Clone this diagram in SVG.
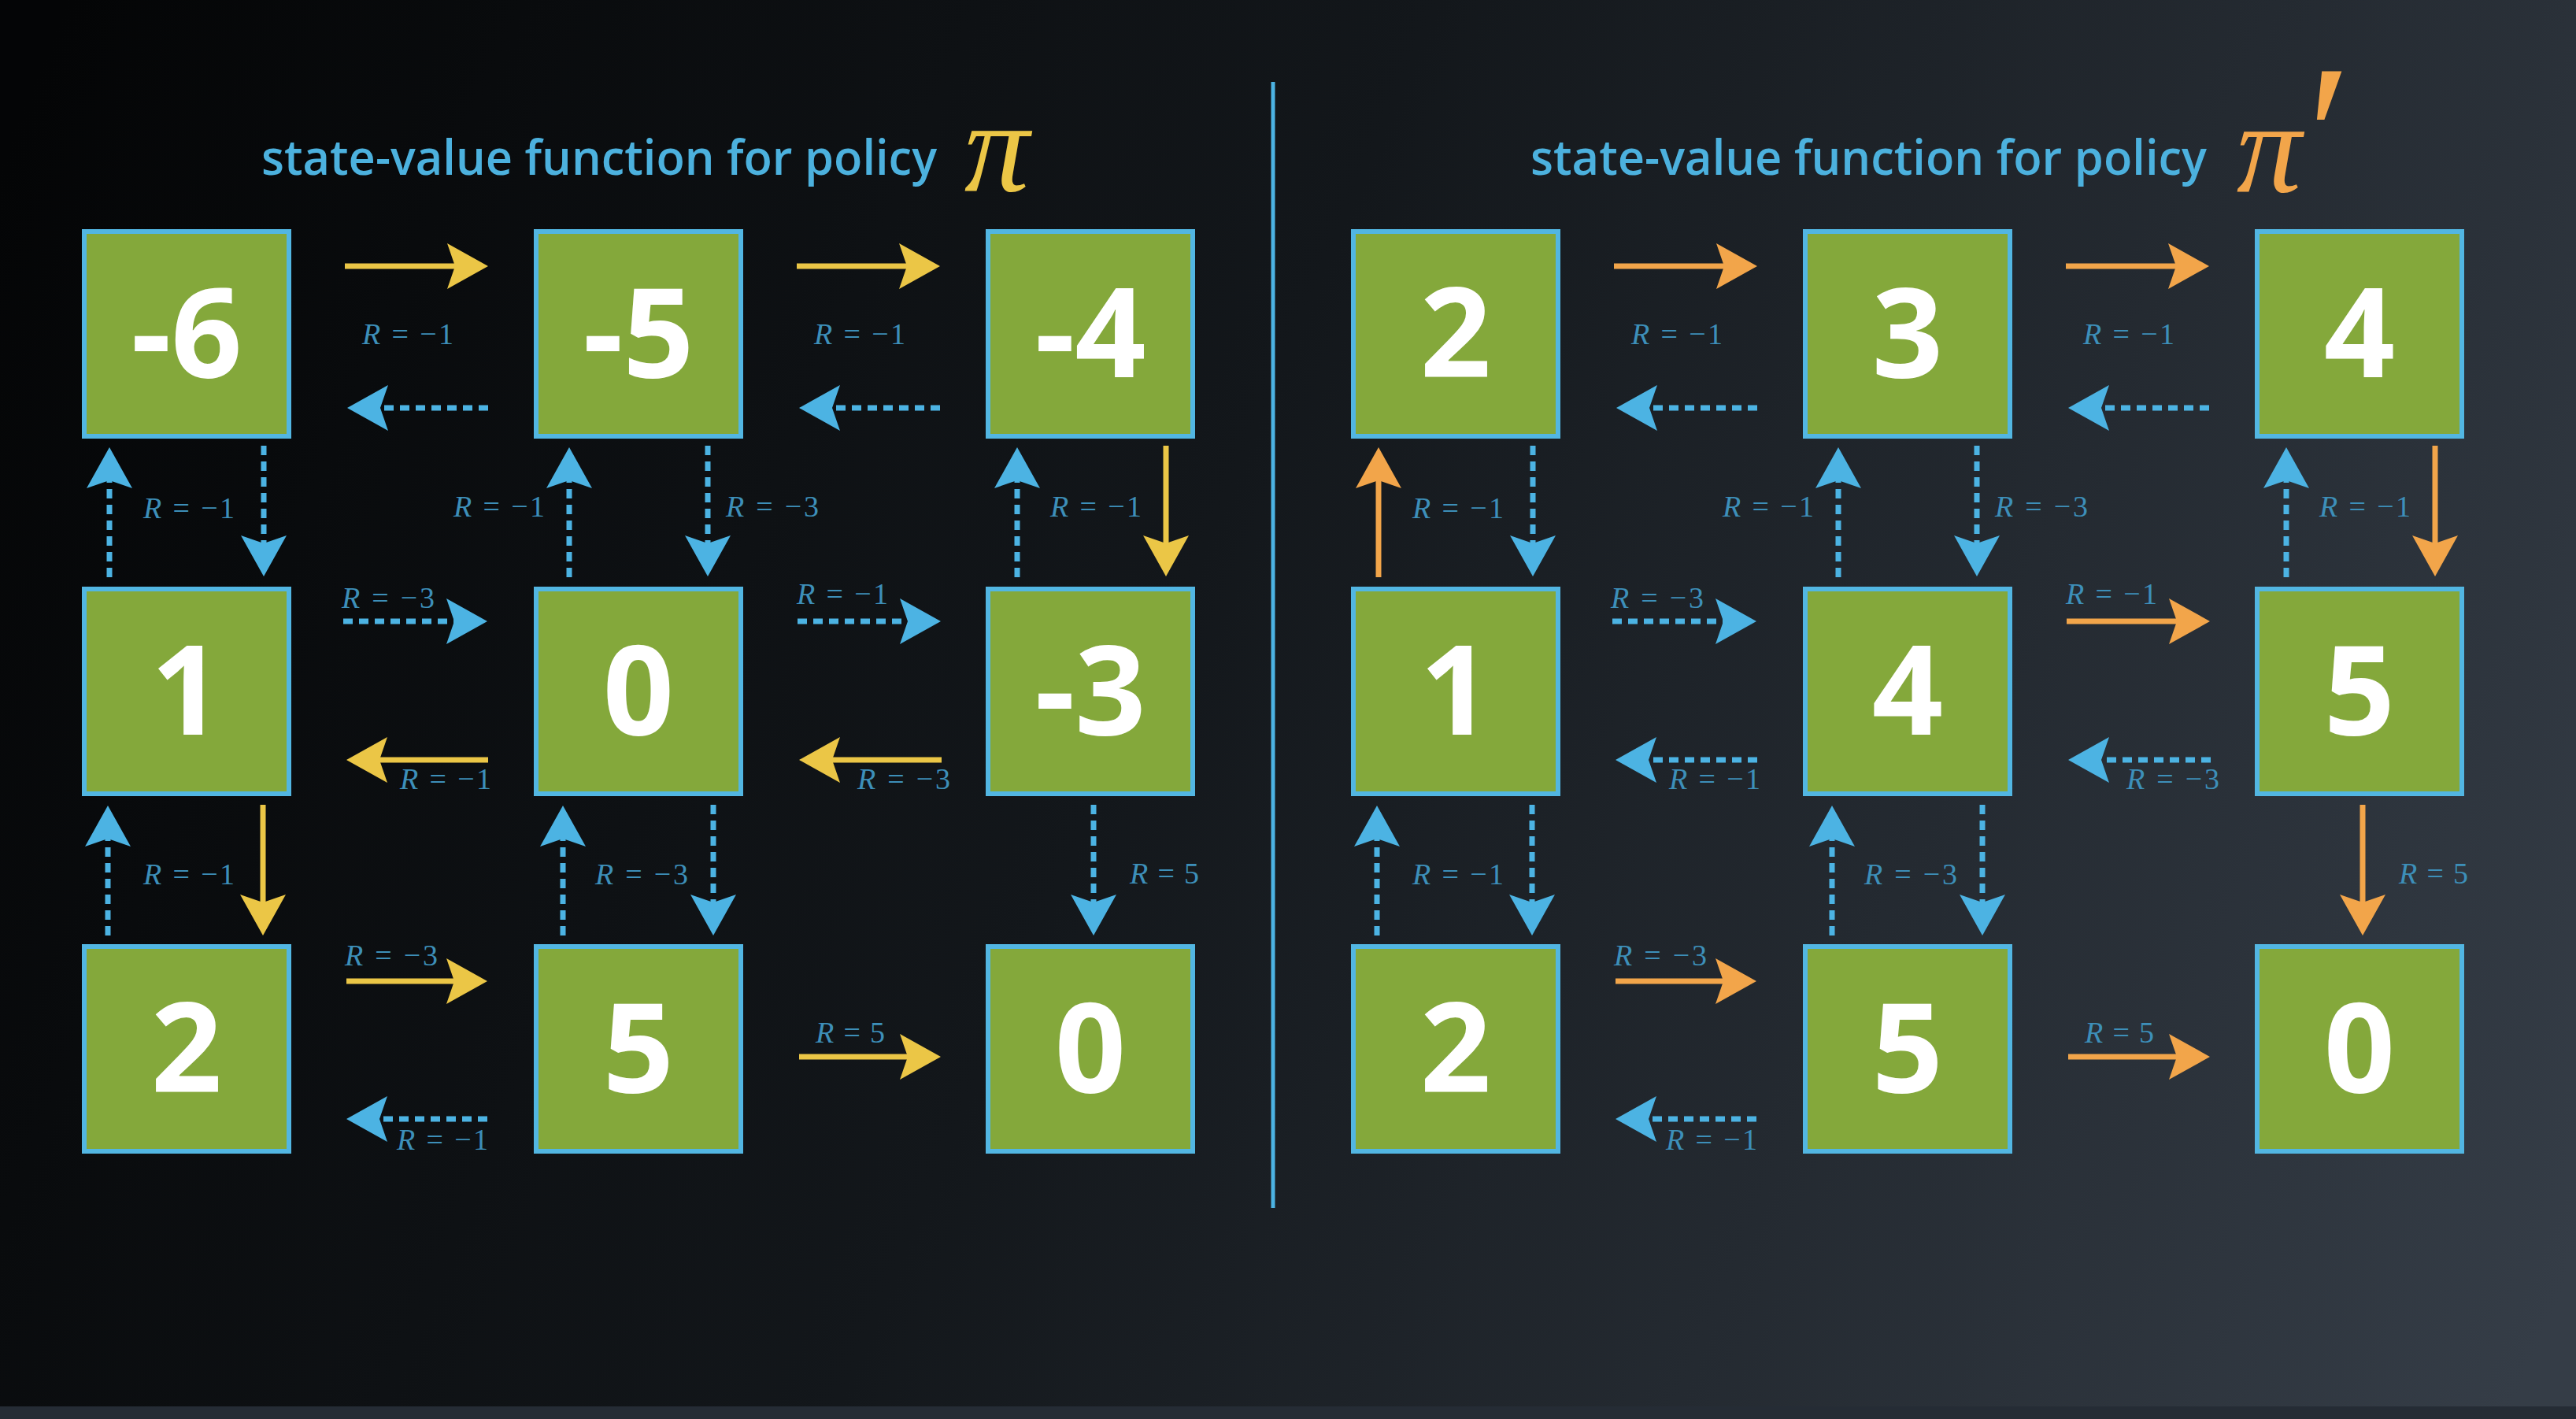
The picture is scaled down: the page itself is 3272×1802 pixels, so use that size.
<svg xmlns="http://www.w3.org/2000/svg" width="3272" height="1802" viewBox="0 0 3272 1802">
<defs>
<linearGradient id="bg" gradientUnits="userSpaceOnUse" x1="0" y1="200" x2="3272" y2="1600">
<stop offset="0" stop-color="#040506"/>
<stop offset="0.45" stop-color="#13171b"/>
<stop offset="1" stop-color="#353d47"/>
</linearGradient>
<marker id="my" markerUnits="userSpaceOnUse" viewBox="-12 -30 56 60" refX="0" refY="0" markerWidth="56" markerHeight="60" orient="auto"><path d="M42,0 L-10,-29 L0,0 L-10,29 Z" fill="#ebc646"/></marker>
<marker id="mo" markerUnits="userSpaceOnUse" viewBox="-12 -30 56 60" refX="0" refY="0" markerWidth="56" markerHeight="60" orient="auto"><path d="M42,0 L-10,-29 L0,0 L-10,29 Z" fill="#f2a54a"/></marker>
<marker id="mb" markerUnits="userSpaceOnUse" viewBox="-12 -30 56 60" refX="0" refY="0" markerWidth="56" markerHeight="60" orient="auto"><path d="M42,0 L-10,-29 L0,0 L-10,29 Z" fill="#4cb3e3"/></marker>
</defs>
<style>
.box{fill:#84a83b;stroke:#52b6e2;stroke-width:6}
.num{font-family:"Open Sans","DejaVu Sans",sans-serif;font-weight:700;font-size:158px;fill:#ffffff;text-anchor:middle}
.title{font-family:"Open Sans","DejaVu Sans",sans-serif;font-weight:600;font-size:62px;fill:#4cb1de}
.lbl{font-family:"Liberation Serif","DejaVu Serif",serif;font-size:38px;fill:#3d8fb9;text-anchor:middle}
.lbl tspan.i{font-style:italic}
.sy{stroke:#ebc646;stroke-width:7;fill:none;marker-end:url(#my)}
.so{stroke:#f2a54a;stroke-width:7;fill:none;marker-end:url(#mo)}
.db{stroke:#4cb3e3;stroke-width:7;fill:none;stroke-dasharray:12 8;marker-end:url(#mb)}
.pi{font-family:"Liberation Serif","DejaVu Serif",serif;font-style:italic;font-size:165px;text-anchor:middle}
</style>
<rect x="0" y="0" width="3272" height="1802" fill="url(#bg)"/>
<rect x="0" y="1786" width="3272" height="16" fill="#252c35"/>
<line x1="1617" y1="104" x2="1617" y2="1534" stroke="#4cb3e3" stroke-width="5"/>

<g id="titles">
<text class="title" x="332" y="222" textLength="858" lengthAdjust="spacingAndGlyphs">state-value function for policy</text>
<text class="pi" x="1266" y="242" fill="#ebc646">π</text>
<text class="title" x="1944" y="222" textLength="859" lengthAdjust="spacingAndGlyphs">state-value function for policy</text>
<text class="pi" x="2882" y="243" fill="#f2a54a">π</text>
<text x="2930" y="262" font-family="Liberation Serif, serif" font-size="262" fill="#f2a54a">′</text>
</g>

<g id="left-nodes">
<g id="L00"><rect class="box" x="107" y="294" width="260" height="260"/><text class="num" x="237" y="479">-6</text></g>
<g id="L01"><rect class="box" x="681" y="294" width="260" height="260"/><text class="num" x="811" y="479">-5</text></g>
<g id="L02"><rect class="box" x="1255" y="294" width="260" height="260"/><text class="num" x="1385" y="479">-4</text></g>
<g id="L10"><rect class="box" x="107" y="748" width="260" height="260"/><text class="num" x="237" y="933">1</text></g>
<g id="L11"><rect class="box" x="681" y="748" width="260" height="260"/><text class="num" x="811" y="933">0</text></g>
<g id="L12"><rect class="box" x="1255" y="748" width="260" height="260"/><text class="num" x="1385" y="933">-3</text></g>
<g id="L20"><rect class="box" x="107" y="1202" width="260" height="260"/><text class="num" x="237" y="1387">2</text></g>
<g id="L21"><rect class="box" x="681" y="1202" width="260" height="260"/><text class="num" x="811" y="1387">5</text></g>
<g id="L22"><rect class="box" x="1255" y="1202" width="260" height="260"/><text class="num" x="1385" y="1387">0</text></g>
</g>

<g id="right-nodes">
<g id="R00"><rect class="box" x="1719" y="294" width="260" height="260"/><text class="num" x="1849" y="479">2</text></g>
<g id="R01"><rect class="box" x="2293" y="294" width="260" height="260"/><text class="num" x="2423" y="479">3</text></g>
<g id="R02"><rect class="box" x="2867" y="294" width="260" height="260"/><text class="num" x="2997" y="479">4</text></g>
<g id="R10"><rect class="box" x="1719" y="748" width="260" height="260"/><text class="num" x="1849" y="933">1</text></g>
<g id="R11"><rect class="box" x="2293" y="748" width="260" height="260"/><text class="num" x="2423" y="933">4</text></g>
<g id="R12"><rect class="box" x="2867" y="748" width="260" height="260"/><text class="num" x="2997" y="933">5</text></g>
<g id="R20"><rect class="box" x="1719" y="1202" width="260" height="260"/><text class="num" x="1849" y="1387">2</text></g>
<g id="R21"><rect class="box" x="2293" y="1202" width="260" height="260"/><text class="num" x="2423" y="1387">5</text></g>
<g id="R22"><rect class="box" x="2867" y="1202" width="260" height="260"/><text class="num" x="2997" y="1387">0</text></g>
</g>

<g id="connectors">
<!-- left panel -->
<path class="sy" d="M438,338 H578"/>
<path class="db" d="M620,518 H483"/>
<path class="sy" d="M1012,338 H1152"/>
<path class="db" d="M1194,518 H1057"/>
<path class="db" d="M139,733 V610"/>
<path class="db" d="M335,566 V690"/>
<path class="db" d="M723,733 V610"/>
<path class="db" d="M899,566 V690"/>
<path class="db" d="M1292,733 V610"/>
<path class="sy" d="M1481,566 V690"/>
<path class="db" d="M436,789 H577"/>
<path class="sy" d="M620,965 H482"/>
<path class="db" d="M1013,789 H1153"/>
<path class="sy" d="M1196,965 H1057"/>
<path class="db" d="M137,1188 V1065"/>
<path class="sy" d="M334,1022 V1146"/>
<path class="db" d="M715,1188 V1065"/>
<path class="db" d="M906,1022 V1146"/>
<path class="db" d="M1389,1022 V1146"/>
<path class="sy" d="M440,1246 H577"/>
<path class="db" d="M619,1421 H482"/>
<path class="sy" d="M1015,1342 H1153"/>
<!-- right panel -->
<path class="so" d="M2050,338 H2190"/>
<path class="db" d="M2232,518 H2095"/>
<path class="so" d="M2624,338 H2764"/>
<path class="db" d="M2806,518 H2669"/>
<path class="so" d="M1751,733 V610"/>
<path class="db" d="M1947,566 V690"/>
<path class="db" d="M2335,733 V610"/>
<path class="db" d="M2511,566 V690"/>
<path class="db" d="M2904,733 V610"/>
<path class="so" d="M3093,566 V690"/>
<path class="db" d="M2048,789 H2189"/>
<path class="db" d="M2232,965 H2094"/>
<path class="so" d="M2625,789 H2765"/>
<path class="db" d="M2808,965 H2669"/>
<path class="db" d="M1749,1188 V1065"/>
<path class="db" d="M1946,1022 V1146"/>
<path class="db" d="M2327,1188 V1065"/>
<path class="db" d="M2518,1022 V1146"/>
<path class="so" d="M3001,1022 V1146"/>
<path class="so" d="M2052,1246 H2189"/>
<path class="db" d="M2231,1421 H2094"/>
<path class="so" d="M2627,1342 H2765"/>
</g>

<g id="labels">
<text class="lbl" x="518" y="437" textLength="116" lengthAdjust="spacing"><tspan class="i">R</tspan> = −1</text>
<text class="lbl" x="1092" y="437" textLength="116" lengthAdjust="spacing"><tspan class="i">R</tspan> = −1</text>
<text class="lbl" x="240" y="658" textLength="116" lengthAdjust="spacing"><tspan class="i">R</tspan> = −1</text>
<text class="lbl" x="634" y="656" textLength="116" lengthAdjust="spacing"><tspan class="i">R</tspan> = −1</text>
<text class="lbl" x="981" y="656" textLength="118" lengthAdjust="spacing"><tspan class="i">R</tspan> = −3</text>
<text class="lbl" x="1392" y="656" textLength="116" lengthAdjust="spacing"><tspan class="i">R</tspan> = −1</text>
<text class="lbl" x="493" y="772" textLength="118" lengthAdjust="spacing"><tspan class="i">R</tspan> = −3</text>
<text class="lbl" x="566" y="1002" textLength="116" lengthAdjust="spacing"><tspan class="i">R</tspan> = −1</text>
<text class="lbl" x="1070" y="767" textLength="116" lengthAdjust="spacing"><tspan class="i">R</tspan> = −1</text>
<text class="lbl" x="1148" y="1002" textLength="118" lengthAdjust="spacing"><tspan class="i">R</tspan> = −3</text>
<text class="lbl" x="240" y="1123" textLength="116" lengthAdjust="spacing"><tspan class="i">R</tspan> = −1</text>
<text class="lbl" x="815" y="1123" textLength="118" lengthAdjust="spacing"><tspan class="i">R</tspan> = −3</text>
<text class="lbl" x="1479" y="1122" textLength="88" lengthAdjust="spacing"><tspan class="i">R</tspan> = 5</text>
<text class="lbl" x="497" y="1226" textLength="118" lengthAdjust="spacing"><tspan class="i">R</tspan> = −3</text>
<text class="lbl" x="562" y="1460" textLength="116" lengthAdjust="spacing"><tspan class="i">R</tspan> = −1</text>
<text class="lbl" x="1080" y="1324" textLength="88" lengthAdjust="spacing"><tspan class="i">R</tspan> = 5</text>

<text class="lbl" x="2130" y="437" textLength="116" lengthAdjust="spacing"><tspan class="i">R</tspan> = −1</text>
<text class="lbl" x="2704" y="437" textLength="116" lengthAdjust="spacing"><tspan class="i">R</tspan> = −1</text>
<text class="lbl" x="1852" y="658" textLength="116" lengthAdjust="spacing"><tspan class="i">R</tspan> = −1</text>
<text class="lbl" x="2246" y="656" textLength="116" lengthAdjust="spacing"><tspan class="i">R</tspan> = −1</text>
<text class="lbl" x="2593" y="656" textLength="118" lengthAdjust="spacing"><tspan class="i">R</tspan> = −3</text>
<text class="lbl" x="3004" y="656" textLength="116" lengthAdjust="spacing"><tspan class="i">R</tspan> = −1</text>
<text class="lbl" x="2105" y="772" textLength="118" lengthAdjust="spacing"><tspan class="i">R</tspan> = −3</text>
<text class="lbl" x="2178" y="1002" textLength="116" lengthAdjust="spacing"><tspan class="i">R</tspan> = −1</text>
<text class="lbl" x="2682" y="767" textLength="116" lengthAdjust="spacing"><tspan class="i">R</tspan> = −1</text>
<text class="lbl" x="2760" y="1002" textLength="118" lengthAdjust="spacing"><tspan class="i">R</tspan> = −3</text>
<text class="lbl" x="1852" y="1123" textLength="116" lengthAdjust="spacing"><tspan class="i">R</tspan> = −1</text>
<text class="lbl" x="2427" y="1123" textLength="118" lengthAdjust="spacing"><tspan class="i">R</tspan> = −3</text>
<text class="lbl" x="3091" y="1122" textLength="88" lengthAdjust="spacing"><tspan class="i">R</tspan> = 5</text>
<text class="lbl" x="2109" y="1226" textLength="118" lengthAdjust="spacing"><tspan class="i">R</tspan> = −3</text>
<text class="lbl" x="2174" y="1460" textLength="116" lengthAdjust="spacing"><tspan class="i">R</tspan> = −1</text>
<text class="lbl" x="2692" y="1324" textLength="88" lengthAdjust="spacing"><tspan class="i">R</tspan> = 5</text>
</g>
</svg>
